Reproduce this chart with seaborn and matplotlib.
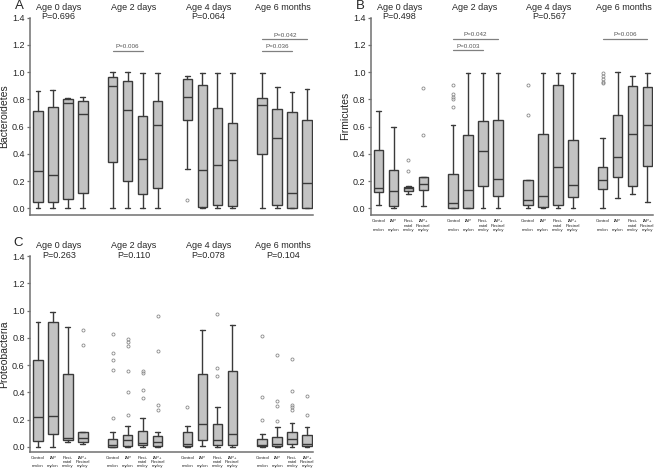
import matplotlib
matplotlib.use('Agg')
import matplotlib.pyplot as plt
import seaborn as sns

# ── Data ─────────────────────────────────────────────────────────────────────
ages = ['Age 0 days', 'Age 2 days', 'Age 4 days', 'Age 6 months']
groups = ['Control', 'IAP', 'Post-natal', 'IAP+Postnatal']
xtick_labels = ['Control\n\nmn/cn', 'IAP\n\nmy/cn', 'Post-\nnatal\nmn/cy', 'IAP+\nPostnal\nmy/cy']

# box order: age 0 (Control, IAP, Post-natal, IAP+), age 2 ..., age 4 ..., age 6 ...
bact_whislo = [0.0, 0.007, 0.0, 0.0, 0.0, 0.007, 0.0, 0.007, 0.29, 0.004, 0.004, 0.004, 0.0, 0.004, 0.0, 0.0]
bact_q1     = [0.051, 0.051, 0.073, 0.11, 0.344, 0.20, 0.105, 0.151, 0.652, 0.008, 0.027, 0.02, 0.396, 0.022, 0.003, 0.004]
bact_med    = [0.278, 0.244, 0.77, 0.69, 0.90, 0.72, 0.364, 0.61, 0.818, 0.281, 0.32, 0.354, 0.76, 0.515, 0.11, 0.188]
bact_q3     = [0.713, 0.747, 0.80, 0.785, 0.967, 0.937, 0.68, 0.79, 0.953, 0.909, 0.735, 0.63, 0.811, 0.726, 0.706, 0.652]
bact_whishi = [0.862, 0.872, 0.81, 0.818, 0.998, 1.0, 0.995, 0.99, 0.972, 0.994, 0.996, 0.994, 0.996, 0.892, 0.855, 0.875]
bact_fliers = [[], [], [], [], [], [], [], [], [0.059], [], [], [], [], [], [], []]
bact_pvals = ['P=0.696', None, 'P=0.064', None]
# (age, from group, to group, y, text)
bact_brackets = [(1, 0, 2, 1.155, 'P=0.006'), (3, 0, 2, 1.155, 'P=0.036'), (3, 0, 3, 1.24, 'P=0.042')]

firm_whislo = [0.025, 0.0, 0.106, 0.02, 0.0, 0.0, 0.007, 0.0, 0.007, 0.0, 0.0, 0.0, 0.0, 0.074, 0.103, 0.044]
firm_q1     = [0.118, 0.02, 0.125, 0.138, 0.007, 0.007, 0.167, 0.088, 0.025, 0.012, 0.025, 0.081, 0.14, 0.228, 0.162, 0.312]
firm_med    = [0.152, 0.125, 0.152, 0.182, 0.039, 0.138, 0.425, 0.214, 0.061, 0.088, 0.302, 0.174, 0.211, 0.376, 0.545, 0.612]
firm_q3     = [0.428, 0.28, 0.157, 0.231, 0.253, 0.536, 0.639, 0.651, 0.209, 0.548, 0.909, 0.499, 0.307, 0.683, 0.899, 0.894]
firm_whishi = [0.713, 0.597, 0.162, 0.231, 0.614, 0.99, 0.99, 0.99, 0.209, 0.99, 0.995, 0.99, 0.518, 1.0, 0.97, 0.99]
firm_fliers = [[], [], [0.356, 0.278], [0.885, 0.54], [0.909, 0.84, 0.82, 0.80, 0.742], [], [], [],
               [0.909, 0.683], [], [], [], [0.99, 0.97, 0.95, 0.93, 0.92], [], [], []]
firm_pvals = ['P=0.498', None, 'P=0.567', None]
firm_brackets = [(1, 0, 2, 1.16, 'P=0.003'), (1, 0, 3, 1.245, 'P=0.042'), (3, 0, 3, 1.245, 'P=0.006')]

prot_whislo = [0.0, 0.0, 0.037, 0.02, 0.0, 0.0, 0.0, 0.0, 0.0, 0.005, 0.0, 0.0, 0.0, 0.0, 0.0, 0.0]
prot_q1     = [0.046, 0.098, 0.054, 0.034, 0.0, 0.01, 0.017, 0.01, 0.007, 0.054, 0.015, 0.015, 0.005, 0.01, 0.022, 0.01]
prot_med    = [0.222, 0.227, 0.068, 0.066, 0.017, 0.049, 0.029, 0.034, 0.02, 0.166, 0.054, 0.093, 0.012, 0.024, 0.061, 0.022]
prot_q3     = [0.634, 0.917, 0.537, 0.112, 0.061, 0.088, 0.117, 0.083, 0.112, 0.534, 0.166, 0.556, 0.061, 0.076, 0.11, 0.09]
prot_whishi = [0.915, 0.99, 0.876, 0.112, 0.112, 0.156, 0.215, 0.112, 0.156, 0.859, 0.29, 0.893, 0.098, 0.149, 0.178, 0.149]
prot_fliers = [[], [], [], [0.859, 0.744],
               [0.829, 0.69, 0.639, 0.566, 0.21], [0.788, 0.773, 0.739, 0.556, 0.405, 0.237],
               [0.556, 0.541, 0.42, 0.356], [0.963, 0.707, 0.307, 0.271],
               [0.29], [], [0.976, 0.58, 0.517], [],
               [0.81, 0.363, 0.2], [0.671, 0.334, 0.302, 0.193], [0.646, 0.407, 0.31, 0.29, 0.27], [0.371, 0.234]]
prot_pvals = ['P=0.263', 'P=0.110', 'P=0.078', 'P=0.104']
prot_brackets = []

# ── Style ────────────────────────────────────────────────────────────────────
sns.set_style('ticks')
plt.rcParams['font.family'] = ['Liberation Sans', 'DejaVu Sans']

BOX_FACE = '#c3c3c3'
EDGE     = '#3a3a3a'
AXIS_COL = '#707070'
positions = [g * 5 + i for g in range(4) for i in range(4)]


# ── Panel ────────────────────────────────────────────────────────────────────
def draw_panel(ax, whislo, q1, med, q3, whishi, fliers, ylabel, pvals, brackets,
               ybottom, show_xlabels):
    stats = []
    for i in range(len(med)):
        stats.append(dict(whislo=whislo[i], q1=q1[i], med=med[i], q3=q3[i],
                          whishi=whishi[i], fliers=fliers[i]))
    ax.bxp(stats, positions=positions, widths=0.65, capwidths=0.3,
           patch_artist=True, manage_ticks=False,
           boxprops=dict(facecolor=BOX_FACE, edgecolor=EDGE, linewidth=1.0),
           medianprops=dict(color=EDGE, linewidth=1.0),
           whiskerprops=dict(color=EDGE, linewidth=1.0),
           capprops=dict(color=EDGE, linewidth=1.0),
           flierprops=dict(marker='o', markersize=2.2, markerfacecolor='none',
                           markeredgecolor='#8a8a8a', markeredgewidth=0.6))

    ax.set_xlim(-0.5, 18.4)
    ax.set_ylim(ybottom, 1.4)
    ax.set_yticks([0.0, 0.2, 0.4, 0.6, 0.8, 1.0, 1.2, 1.4])
    ax.set_yticklabels([f'{v:.1f}' for v in ax.get_yticks()], fontsize=6.5)
    ax.set_ylabel(ylabel, fontsize=7.5, labelpad=2)
    ax.tick_params(axis='y', length=2.5, width=0.9, color=AXIS_COL, pad=1.5)

    if show_xlabels:
        ax.set_xticks(positions)
        ax.set_xticklabels(xtick_labels * 4, fontsize=3.2, linespacing=1.1)
        ax.tick_params(axis='x', length=0, pad=3)
    else:
        ax.set_xticks([])

    sns.despine(ax=ax)
    for side in ['left', 'bottom']:
        ax.spines[side].set_color(AXIS_COL)
        ax.spines[side].set_linewidth(1.1)
    ax.spines['left'].set_bounds(ybottom, 1.4)

    for g in range(4):
        ax.text(g * 5 + 1.4, 1.475, ages[g], ha='center', va='center', fontsize=6.5)
        if pvals[g]:
            ax.text(g * 5 + 1.4, 1.405, pvals[g], ha='center', va='center', fontsize=6.5)

    for g, a, b, y, txt in brackets:
        x0, x1 = g * 5 + a, g * 5 + b
        ax.plot([x0, x1], [y, y], color='#808080', lw=0.9, clip_on=False)
        ax.text((x0 + x1) / 2, y + 0.012, txt, ha='center', va='bottom',
                fontsize=4.5, color='#555555')


# ── Figure ───────────────────────────────────────────────────────────────────
fig = plt.figure(figsize=(6.58, 4.75), dpi=100)
ax_a = fig.add_axes([0.046, 0.547, 0.430, 0.416])
ax_b = fig.add_axes([0.564, 0.547, 0.429, 0.416])
ax_c = fig.add_axes([0.046, 0.049, 0.430, 0.412])

draw_panel(ax_a, bact_whislo, bact_q1, bact_med, bact_q3, bact_whishi, bact_fliers,
           'Bacteroidetes', bact_pvals, bact_brackets, -0.049, False)
draw_panel(ax_b, firm_whislo, firm_q1, firm_med, firm_q3, firm_whishi, firm_fliers,
           'Firmicutes', firm_pvals, firm_brackets, -0.049, True)
draw_panel(ax_c, prot_whislo, prot_q1, prot_med, prot_q3, prot_whishi, prot_fliers,
           'Proteobacteria', prot_pvals, prot_brackets, -0.035, True)

fig.text(19 / 658, 1 - 6 / 475, 'A', fontsize=9.5, ha='center', va='center')
fig.text(360 / 658, 1 - 6 / 475, 'B', fontsize=9.5, ha='center', va='center')
fig.text(18 / 658, 1 - 243 / 475, 'C', fontsize=9.5, ha='center', va='center')

fig.savefig('out.png', dpi=100)
